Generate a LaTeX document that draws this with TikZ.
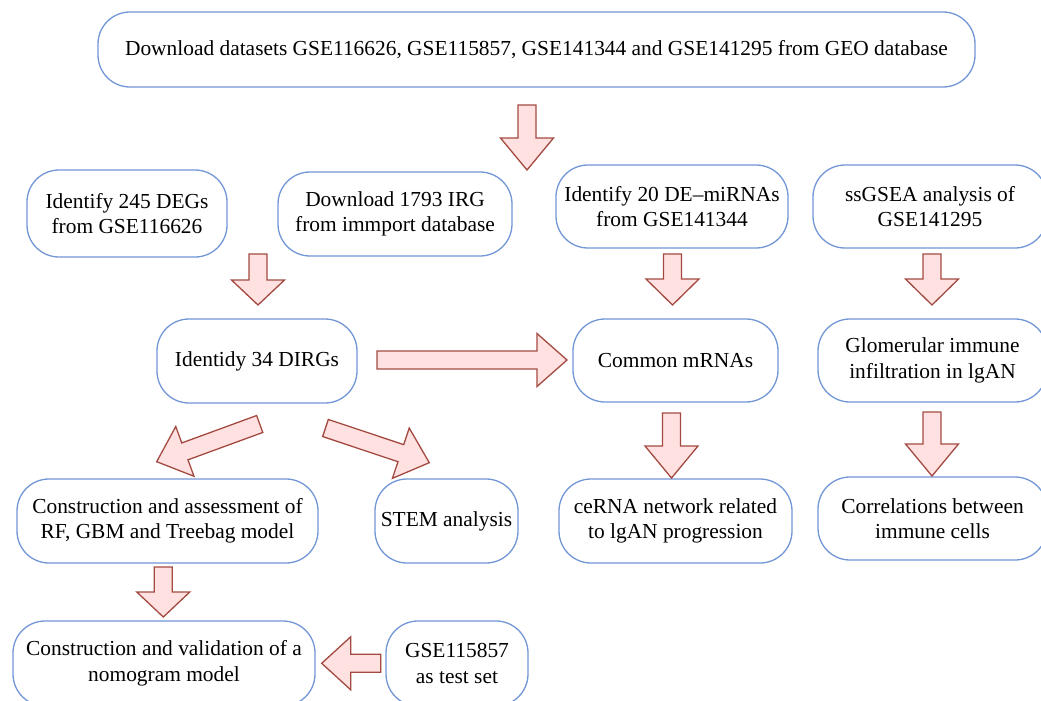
\documentclass[tikz,border=0pt]{standalone}
\usepackage{fontspec}
\setmainfont{Liberation Serif}
\usetikzlibrary{calc}

\definecolor{boxline}{RGB}{114,150,214}
\definecolor{arrowfill}{RGB}{255,225,226}
\definecolor{arrowline}{RGB}{163,74,64}

\tikzset{
  box/.style={draw=boxline, line width=1.3pt, rounded corners=32pt, fill=white,
    align=center, inner sep=0pt, font=\fontsize{21.4}{25.5}\selectfont},
  blockarr/.style={draw=arrowline, fill=arrowfill, line width=1.3pt, line join=miter}
}

% fat arrow from #1 to #2, head length #3
\newcommand{\blockarrow}[3]{%
  \draw[blockarr] let \p1=(#1), \p2=(#2),
    \n1={atan2(\y2-\y1,\x2-\x1)}, \n2={veclen(\x2-\x1,\y2-\y1)} in
    [shift={(\p1)}, rotate=\n1]
    (0,-9) -- ({\n2-#3},-9) -- ({\n2-#3},-26.5) -- ({\n2},0)
    -- ({\n2-#3},26.5) -- ({\n2-#3},9) -- (0,9) -- cycle;
}

\begin{document}
\begin{tikzpicture}[x=1pt, y=-1pt]
  \useasboundingbox (0,0) rectangle (1041,701);

  % Top row
  \node[box, minimum width=877pt, minimum height=75pt] (geo) at (536.5,49.5)
    {Download datasets GSE116626, GSE115857, GSE141344 and GSE141295 from GEO database};

  % Second row
  \node[box, minimum width=200pt, minimum height=87pt] (deg) at (127,213.5)
    {Identify 245 DEGs\\from GSE116626};
  \node[box, minimum width=234pt, minimum height=84pt] (irg) at (395,214)
    {Download 1793 IRG\\from immport database};
  \node[box, minimum width=232pt, minimum height=83pt] (mirna) at (672,206.5)
    {Identify 20 DE–miRNAs\\from GSE141344};
  \node[box, minimum width=234pt, minimum height=83pt] (ssgsea) at (930,206.5)
    {ssGSEA analysis of\\GSE141295};

  % Third row
  \node[box, minimum width=200pt, minimum height=84pt] (dirg) at (257,361)
    {Identidy 34 DIRGs};
  \node[box, minimum width=205pt, minimum height=83pt] (mrna) at (675.5,360.5)
    {Common mRNAs};
  \node[box, minimum width=229pt, minimum height=83pt] (infil) at (932.5,360.5)
    {Glomerular immune\\infiltration in lgAN};

  % Fourth row
  \node[box, minimum width=301pt, minimum height=84pt] (model) at (167.5,521)
    {Construction and assessment of\\RF, GBM and Treebag model};
  \node[box, minimum width=143pt, minimum height=84pt] (stem) at (446.5,521)
    {STEM analysis};
  \node[box, minimum width=233pt, minimum height=84pt] (cerna) at (675.5,521)
    {ceRNA network related\\to lgAN progression};
  \node[box, minimum width=229pt, minimum height=83pt] (corr) at (932.5,518.5)
    {Correlations between\\immune cells};

  % Bottom row
  \node[box, minimum width=302pt, minimum height=85pt] (nomo) at (164,663.5)
    {Construction and validation of a\\nomogram model};
  \node[box, minimum width=142pt, minimum height=85pt] (test) at (457,663.5)
    {GSE115857\\as test set};

  % Arrow ends
  \coordinate (a1s) at (527,105);     \coordinate (a1e) at (527,170);
  \coordinate (a2s) at (258,254);     \coordinate (a2e) at (258,305);
  \coordinate (a3s) at (672.5,254);   \coordinate (a3e) at (672.5,305);
  \coordinate (a4s) at (932,254);     \coordinate (a4e) at (932,305);
  \coordinate (a5s) at (377,360);     \coordinate (a5e) at (567,360);
  \coordinate (a6s) at (671.5,413);   \coordinate (a6e) at (671.5,478);
  \coordinate (a7s) at (932,412);     \coordinate (a7e) at (932,476);
  \coordinate (a8s) at (259.7,424);   \coordinate (a8e) at (156.7,461.7);
  \coordinate (a9s) at (325.5,428);   \coordinate (a9e) at (429.3,462.7);
  \coordinate (a10s) at (163.3,567);  \coordinate (a10e) at (163.3,617);
  \coordinate (a11s) at (380.7,663.3);\coordinate (a11e) at (321.7,663.3);

  % Fat arrows
  \blockarrow{a1s}{a1e}{32}
  \blockarrow{a2s}{a2e}{25}
  \blockarrow{a3s}{a3e}{26}
  \blockarrow{a4s}{a4e}{26}
  \blockarrow{a5s}{a5e}{30}
  \blockarrow{a6s}{a6e}{32}
  \blockarrow{a7s}{a7e}{32}
  \blockarrow{a8s}{a8e}{30}
  \blockarrow{a9s}{a9e}{30}
  \blockarrow{a10s}{a10e}{25}
  \blockarrow{a11s}{a11e}{29}

\end{tikzpicture}
\end{document}
